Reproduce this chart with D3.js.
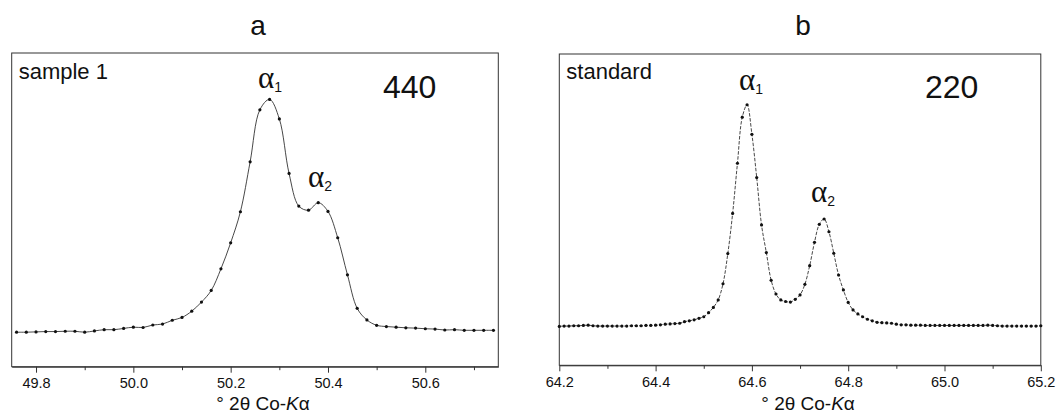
<!DOCTYPE html>
<html>
<head>
<meta charset="utf-8">
<script src="https://cdn.jsdelivr.net/npm/d3@7"></script>
<style>
  body { margin: 0; background: #fff; }
  svg text { font-family: "Liberation Sans", Arial, sans-serif; fill: #111; }
</style>
</head>
<body>
<div id="chart"></div>
<script>
// panel a : sample 1, reflection 440
const sampleAngles = [49.76, 49.78, 49.80, 49.82, 49.84, 49.86, 49.88, 49.90, 49.92, 49.94,
  49.96, 49.98, 50.00, 50.02, 50.04, 50.06, 50.08, 50.10, 50.12, 50.14,
  50.16, 50.18, 50.20, 50.22, 50.24, 50.26, 50.28, 50.30, 50.32, 50.34,
  50.36, 50.38, 50.40, 50.42, 50.44, 50.46, 50.48, 50.50, 50.52, 50.54,
  50.56, 50.58, 50.60, 50.62, 50.64, 50.66, 50.68, 50.70, 50.72, 50.74];
const sampleCounts = [11.0, 11.0, 11.1, 11.2, 11.2, 11.3, 11.3, 11.0, 11.4, 11.8,
  11.8, 12.2, 12.6, 12.5, 13.3, 13.6, 14.8, 15.7, 17.7, 20.6,
  24.3, 31.2, 39.5, 49.4, 65.3, 81.9, 85.2, 79.0, 61.6, 51.2,
  49.9, 52.3, 49.5, 41.1, 29.3, 18.6, 14.9, 13.2, 12.8, 12.6,
  12.4, 12.3, 12.1, 12.0, 11.7, 11.8, 11.6, 11.6, 11.6, 11.6];
const sampleTicks = [49.8, 50.0, 50.2, 50.4, 50.6];
const sampleMinorTicks = [49.9, 50.1, 50.3, 50.5, 50.7];

// panel b : standard, reflection 220
const standardAngles = [64.20, 64.21, 64.22, 64.23, 64.24, 64.25, 64.26, 64.27, 64.28, 64.29,
  64.30, 64.31, 64.32, 64.33, 64.34, 64.35, 64.36, 64.37, 64.38, 64.39,
  64.40, 64.41, 64.42, 64.43, 64.44, 64.45, 64.46, 64.47, 64.48, 64.49,
  64.50, 64.51, 64.52, 64.53, 64.54, 64.55, 64.56, 64.57, 64.58, 64.59,
  64.60, 64.61, 64.62, 64.63, 64.64, 64.65, 64.66, 64.67, 64.68, 64.69,
  64.70, 64.71, 64.72, 64.73, 64.74, 64.75, 64.76, 64.77, 64.78, 64.79,
  64.80, 64.81, 64.82, 64.83, 64.84, 64.85, 64.86, 64.87, 64.88, 64.89,
  64.90, 64.91, 64.92, 64.93, 64.94, 64.95, 64.96, 64.97, 64.98, 64.99,
  65.00, 65.01, 65.02, 65.03, 65.04, 65.05, 65.06, 65.07, 65.08, 65.09,
  65.10, 65.11, 65.12, 65.13, 65.14, 65.15, 65.16, 65.17, 65.18, 65.19, 65.20];
const standardCounts = [12.5, 12.6, 12.6, 12.7, 12.7, 12.8, 12.9, 12.7, 12.6, 12.6,
  12.6, 12.6, 12.6, 12.6, 12.6, 12.7, 12.7, 12.7, 12.8, 12.8,
  12.9, 13.0, 13.2, 13.3, 13.4, 13.5, 14.0, 14.3, 14.6, 15.1,
  15.6, 16.9, 18.6, 21.0, 26.2, 35.9, 48.8, 64.9, 79.7, 83.7,
  74.2, 60.3, 45.1, 36.2, 27.3, 22.9, 21.0, 20.5, 20.3, 21.2,
  22.6, 26.0, 32.0, 39.5, 45.3, 47.0, 42.9, 36.0, 29.0, 24.2,
  20.2, 17.8, 16.5, 15.6, 14.8, 14.3, 13.8, 13.7, 13.6, 13.5,
  13.2, 13.0, 13.0, 12.9, 12.9, 12.9, 12.8, 12.8, 12.8, 12.8,
  12.8, 12.8, 12.8, 12.8, 12.8, 12.8, 12.8, 12.8, 12.8, 12.9,
  12.8, 12.7, 12.6, 12.6, 12.6, 12.6, 12.6, 12.6, 12.6, 12.6, 12.7];
const standardTicks = [64.2, 64.4, 64.6, 64.8, 65.0, 65.2];
const standardMinorTicks = [64.3, 64.5, 64.7, 64.9, 65.1];

const width = 1059, height = 415;

const svg = d3.select("#chart").append("svg")
  .attr("width", width)
  .attr("height", height);

const panels = [
  {
    letter: "a", name: "sample 1", hkl: "440",
    x: sampleAngles, y: sampleCounts, ticks: sampleTicks, minor: sampleMinorTicks,
    domain: [49.75, 50.75],
    left: 11.7, top: 53, w: 486.6, h: 313.7,
    hklX: 383, a1: [258, 88], a2: [308, 187], dash: null
  },
  {
    letter: "b", name: "standard", hkl: "220",
    x: standardAngles, y: standardCounts, ticks: standardTicks, minor: standardMinorTicks,
    domain: [64.2, 65.2],
    left: 559.3, top: 54, w: 481.5, h: 311.3,
    hklX: 925, a1: [739, 90], a2: [811, 202], dash: "3.5,1.5"
  }
];

panels.forEach(p => {
  const g = svg.append("g").attr("transform", `translate(${p.left},${p.top})`);

  const xScale = d3.scaleLinear().domain(p.domain).range([0, p.w]);
  const yScale = d3.scaleLinear().domain([0, 100]).range([p.h, 0]);

  // frame
  g.append("rect")
    .attr("width", p.w).attr("height", p.h)
    .attr("fill", "none").attr("stroke", "#333").attr("stroke-width", 1);

  // bottom axis, major ticks with labels
  const axis = g.append("g")
    .attr("transform", `translate(0,${p.h})`)
    .call(d3.axisBottom(xScale).tickValues(p.ticks).tickFormat(d3.format(".1f"))
      .tickSize(6).tickSizeOuter(0).tickPadding(5));
  axis.select(".domain").attr("stroke", "#333");
  axis.selectAll(".tick line").attr("stroke", "#333");
  axis.selectAll(".tick text")
    .attr("font-family", "Liberation Sans, Arial, sans-serif")
    .attr("font-size", 14.5).attr("fill", "#111");

  // minor ticks
  g.append("g")
    .attr("transform", `translate(0,${p.h})`)
    .call(d3.axisBottom(xScale).tickValues(p.minor).tickFormat("").tickSize(3.5).tickSizeOuter(0))
    .call(s => s.select(".domain").remove())
    .selectAll(".tick line").attr("stroke", "#333");

  // axis title
  const title = svg.append("text")
    .attr("x", p.left + p.w / 2 + 8).attr("y", 410)
    .attr("text-anchor", "middle").attr("font-size", 19);
  title.append("tspan").text("° 2θ Co-");
  title.append("tspan").attr("font-style", "italic").text("K");
  title.append("tspan").text("α");

  // panel letter
  svg.append("text")
    .attr("x", p.left + p.w / 2 + 3).attr("y", 35)
    .attr("text-anchor", "middle").attr("font-size", 28)
    .text(p.letter);

  // sample name and reflection
  svg.append("text")
    .attr("x", p.left + 7).attr("y", 79)
    .attr("font-size", 22).text(p.name);
  svg.append("text")
    .attr("x", p.hklX).attr("y", 98)
    .attr("font-size", 32).text(p.hkl);

  // alpha labels
  [[p.a1, "1"], [p.a2, "2"]].forEach(([pos, sub]) => {
    const t = svg.append("text").attr("x", pos[0]).attr("y", pos[1]);
    t.append("tspan").attr("font-family", "Liberation Serif, serif").attr("font-size", 31).text("α");
    t.append("tspan").attr("font-size", 14).attr("dy", 4).text(sub);
  });

  const pts = p.x.map((d, i) => [d, p.y[i]]);

  g.append("path")
    .datum(pts)
    .attr("fill", "none")
    .attr("stroke", "#333")
    .attr("stroke-width", 0.9)
    .attr("stroke-dasharray", p.dash)
    .attr("d", d3.line()
      .x(d => xScale(d[0]))
      .y(d => yScale(d[1]))
      .curve(d3.curveCatmullRom.alpha(0.5)));

  g.selectAll("circle")
    .data(pts)
    .enter()
    .append("circle")
    .attr("cx", d => xScale(d[0]))
    .attr("cy", d => yScale(d[1]))
    .attr("r", 1.6)
    .attr("fill", "#111");
});
</script>
</body>
</html>
